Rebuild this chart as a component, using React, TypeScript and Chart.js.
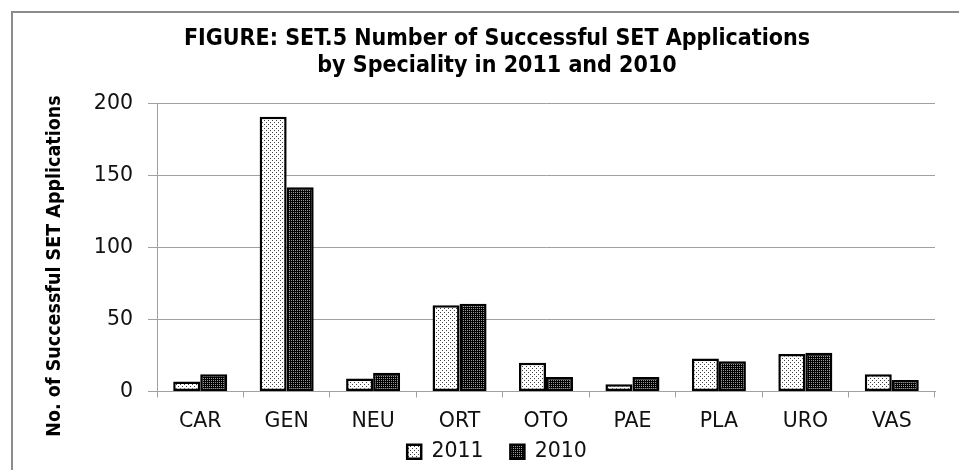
import React, { useEffect, useRef } from "react";
import { Chart, registerables } from "chart.js";

Chart.register(...registerables);

const categories = ["CAR", "GEN", "NEU", "ORT", "OTO", "PAE", "PLA", "URO", "VAS"];
const values2011 = [7, 191, 9, 60, 20, 5, 23, 26, 12];
const values2010 = [12, 142, 13, 61, 10, 10, 21, 27, 8];
const seriesLabels = ["2011", "2010"];
const titleLines = [
  "FIGURE: SET.5 Number of Successful SET Applications",
  "by Speciality in 2011 and 2010",
];
const yAxisTitle = "No. of Successful SET Applications";

function makePattern(kind: "light" | "dark"): CanvasPattern | string {
  const c = document.createElement("canvas");
  c.width = 4;
  c.height = 4;
  const g = c.getContext("2d");
  if (!g) return kind === "light" ? "#eee" : "#333";
  if (kind === "light") {
    g.fillStyle = "#ffffff";
    g.fillRect(0, 0, 4, 4);
    g.fillStyle = "#444444";
    g.fillRect(0, 0, 1, 1);
    g.fillRect(2, 2, 1, 1);
  } else {
    g.fillStyle = "#000000";
    g.fillRect(0, 0, 4, 4);
    g.fillStyle = "#9a9a9a";
    g.fillRect(1, 0, 1, 1);
    g.fillRect(3, 2, 1, 1);
    g.fillRect(1, 2, 1, 1);
    g.fillRect(3, 0, 1, 1);
  }
  const p = g.createPattern(c, "repeat");
  return p || (kind === "light" ? "#eee" : "#333");
}

export default function App() {
  const ref = useRef<HTMLCanvasElement | null>(null);

  useEffect(() => {
    if (!ref.current) return;
    const light = makePattern("light");
    const dark = makePattern("dark");

    const framePlugin = {
      id: "frame",
      beforeDraw(chart: any) {
        const ctx = chart.ctx;
        ctx.save();
        ctx.fillStyle = "#ffffff";
        ctx.fillRect(0, 0, chart.width, chart.height);
        ctx.strokeStyle = "#8c8c8c";
        ctx.lineWidth = 2;
        ctx.beginPath();
        ctx.moveTo(12, chart.height + 2);
        ctx.lineTo(12, 12);
        ctx.lineTo(chart.width + 2, 12);
        ctx.stroke();
        ctx.restore();
      },
      afterDraw(chart: any) {
        const ctx = chart.ctx;
        ctx.save();
        ctx.translate(55, 266);
        ctx.rotate(-Math.PI / 2);
        ctx.fillStyle = "#000000";
        ctx.font = "bold 19.5px 'DejaVu Sans Condensed', 'DejaVu Sans'";
        ctx.textAlign = "center";
        ctx.textBaseline = "middle";
        ctx.fillText(yAxisTitle, 0, 0);
        ctx.restore();
      },
    };

    const defaultGen = (Chart as any).defaults.plugins.legend.labels.generateLabels;

    const chart = new Chart(ref.current, {
      type: "bar",
      data: {
        labels: categories,
        datasets: [
          {
            label: seriesLabels[0],
            data: values2011,
            backgroundColor: light as any,
            borderColor: "#000000",
            borderWidth: 2.5,
            borderSkipped: false,
          },
          {
            label: seriesLabels[1],
            data: values2010,
            backgroundColor: dark as any,
            borderColor: "#000000",
            borderWidth: 2.5,
            borderSkipped: false,
          },
        ],
      },
      options: {
        responsive: false,
        animation: false,
        layout: { padding: { left: 59, right: 24, top: 0, bottom: -2 } },
        datasets: {
          bar: { categoryPercentage: 0.625, barPercentage: 1 },
        },
        plugins: {
          tooltip: { enabled: false },
          title: {
            display: true,
            text: titleLines,
            color: "#000000",
            font: { family: "'DejaVu Sans Condensed', 'DejaVu Sans'", size: 23, weight: "bold", lineHeight: 1.17 },
            padding: { top: 26, bottom: 24 },
          },
          legend: {
            display: true,
            position: "bottom",
            labels: {
              color: "#111111",
              boxWidth: 14,
              boxHeight: 14,
              padding: 10,
              font: { family: "'DejaVu Sans'", size: 20.5 },
              generateLabels(c: any) {
                const items = defaultGen(c);
                if (items.length > 0) items[0].text = items[0].text + "\u2002 ";
                return items;
              },
            },
          },
        },
        scales: {
          x: {
            afterFit(scale: any) {
              scale.height = 40;
            },
            grid: {
              drawOnChartArea: false,
              drawTicks: true,
              tickLength: 6,
              color: "#a0a0a0",
            },
            border: { display: true, color: "#a0a0a0" },
            ticks: {
              color: "#111111",
              padding: 12,
              font: { family: "'DejaVu Sans'", size: 20.5 },
              maxRotation: 0,
            },
          },
          y: {
            min: 0,
            max: 200,
            afterFit(scale: any) {
              scale.width = 98;
            },
            ticks: {
              stepSize: 50,
              color: "#111111",
              padding: 15,
              font: { family: "'DejaVu Sans'", size: 20.5 },
            },
            grid: {
              color: "#a0a0a0",
              tickLength: 9,
            },
            border: { display: true, color: "#a0a0a0" },
          },
        },
      },
      plugins: [framePlugin],
    });

    return () => chart.destroy();
  }, []);

  return (
    <div style={{ position: "fixed", left: 0, top: 0, width: 959, height: 470, background: "#fff" }}>
      <canvas ref={ref} width={959} height={470} style={{ display: "block", width: 959, height: 470 }} />
    </div>
  );
}
